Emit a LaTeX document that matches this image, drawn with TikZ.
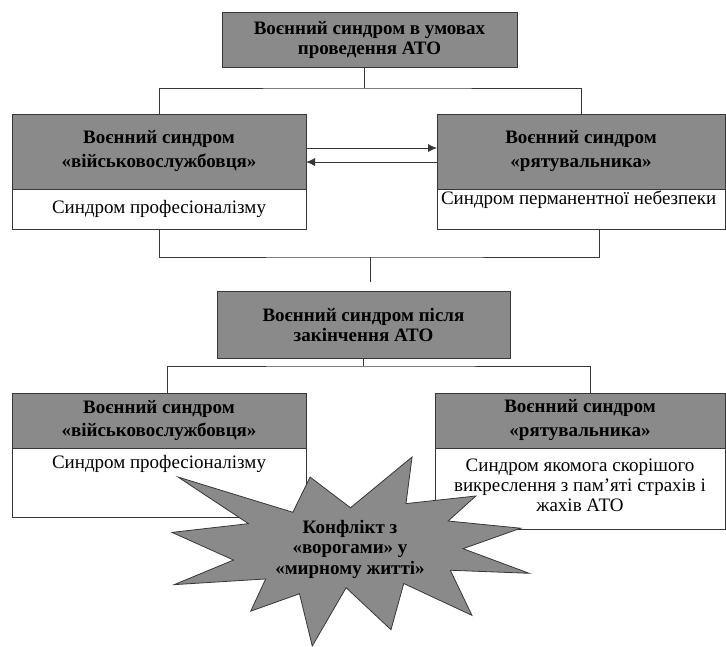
\documentclass[tikz,border=0pt]{standalone}
\usepackage{fontspec}
\setmainfont{Liberation Serif}
\usetikzlibrary{positioning}
\usetikzlibrary{arrows.meta}
\definecolor{boxgray}{RGB}{138,138,138}
\definecolor{linegray}{RGB}{55,55,55}
\newcommand{\topalign}[4]{\parbox[c][#1][t]{#2}{\rule{0pt}{#3}#4}}

\begin{document}
\begin{tikzpicture}[
  x=1pt, y=-1pt,
  head/.style={draw=linegray, line width=0.8pt, fill=boxgray, inner sep=0pt, outer sep=0pt, align=center, font=\fontsize{19}{20}\selectfont\bfseries},
  body/.style={draw=linegray, line width=0.8pt, fill=white, inner sep=0pt, outer sep=0pt, font=\fontsize{19}{20}\selectfont},
  link/.style={draw=linegray, line width=0.8pt}
]
\useasboundingbox (0,0) rectangle (726,646);

\node[head, minimum width=295, minimum height=55] (top) at (369.5,39.5) {Воєнний синдром в умовах\\проведення АТО};

% during ATO
\node[head, minimum width=294, minimum height=75] (vsl1) at (159,151.5) {Воєнний синдром\\[4pt]«військовослужбовця»};
\node[body, minimum width=294, minimum height=40, below=0pt of vsl1] (vsl1b) {Синдром професіоналізму};
\node[head, minimum width=288, minimum height=75] (rtv1) at (581,151.5) {Воєнний синдром\\[4pt]«рятувальника»};
\node[body, below=0pt of rtv1] (rtv1b) {\topalign{40pt}{288pt}{15pt}{\hspace*{4pt}Синдром перманентної небезпеки}};

% after ATO
\node[head, minimum width=293, minimum height=67] (post) at (363.5,324.5) {Воєнний синдром після\\закінчення АТО};
\node[head, minimum width=294, minimum height=55] (vsl2) at (159,420.5) {Воєнний синдром\\[3pt]«військовослужбовця»};
\node[body, below=0pt of vsl2] (vsl2b) {\topalign{69pt}{294pt}{20pt}{\centering Синдром професіоналізму}};
\node[head, minimum width=290, minimum height=55] (rtv2) at (580,420.5) {Воєнний синдром\\[4pt]«рятувальника»};
\node[body, below=0pt of rtv2] (rtv2b) {\topalign{81pt}{290pt}{23pt}{\centering Синдром якомога скорішого\\викреслення з пам’яті страхів і\\жахів АТО}};

\coordinate (busa) at (364,88);
\coordinate (busb) at (370,257);
\coordinate (busc) at (363,366);

\draw[link] (top.south -| busa) -- (busa);
\draw[link] (vsl1.north) |- (busa) -| (rtv1.north);
\draw[link, -{Latex[length=9pt,width=8pt]}] ([yshift=3.5]vsl1.east) -- ([yshift=3.5]rtv1.west);
\draw[link, -{Latex[length=9pt,width=8pt]}] ([yshift=-10.5]rtv1.west) -- ([yshift=-10.5]vsl1.east);
\draw[link] (vsl1b.south) |- (busb) -| ([xshift=18]rtv1b.south);
\draw[link, shorten >=9pt] (busb) -- (busb |- post.north);
\draw[link] (post.south) -- (post.south |- busc);
\draw[link] ([xshift=8]vsl2.north) |- (busc) -| ([xshift=10]rtv2.north);

% explosion
\begin{scope}[shift={(172,457)}, x=1.653pt, y=-0.875pt]
\draw[link, fill=boxgray] (108,58) -- (145.22,0) -- (141.55,53.25) -- (183.80,44.57)
  -- (167.02,73.15) -- (210.97,81.37) -- (176.07,104.75) -- (216,132.90)
  -- (168.37,129.42) -- (181.45,180.95) -- (140.20,144.57) -- (132.47,197.37)
  -- (105.32,149.35) -- (84.85,216) -- (77.15,156.27) -- (47.62,176.17)
  -- (56.67,139.37) -- (1.35,145.87) -- (37.22,117.75) -- (0,86.15)
  -- (46.27,76.17) -- (3.70,22.95) -- (73.12,63.20) -- (83.52,22.95) -- cycle;
\end{scope}
\node[align=center, font=\fontsize{19}{20.5}\selectfont\bfseries] (conf) at (350,549) {Конфлікт з\\«ворогами» у\\«мирному житті»};

\end{tikzpicture}
\end{document}
